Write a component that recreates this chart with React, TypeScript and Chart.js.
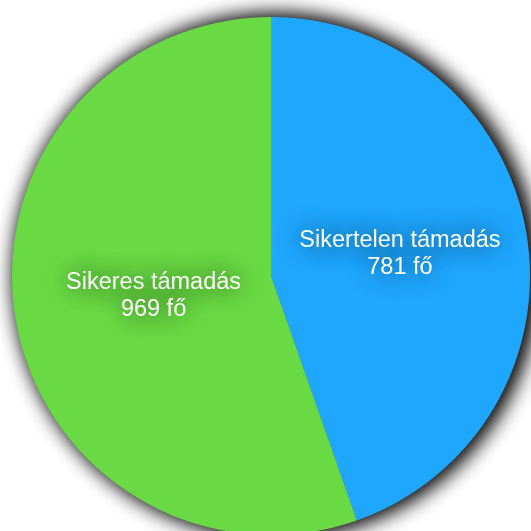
import React, { useEffect, useRef } from "react";
import { Chart, registerables } from "chart.js";

Chart.register(...registerables);

const categories = ["Sikertelen támadás", "Sikeres támadás"];
const values = [781, 969];
const unitLabels = ["781 fő", "969 fő"];
const colors = ["#1FA7FE", "#69DA43"];
const labelRadiusFractions = [0.505, 0.46];

const pieShadowPlugin = {
  id: "pieShadow",
  beforeDatasetsDraw(chart: any) {
    const meta = chart.getDatasetMeta(0);
    const el = meta.data[0];
    if (!el) return;
    const ctx = chart.ctx;
    ctx.save();
    ctx.shadowColor = "rgba(0,0,0,0.9)";
    ctx.shadowBlur = 22;
    ctx.shadowOffsetX = 5;
    ctx.shadowOffsetY = 0;
    ctx.fillStyle = "#666";
    for (let k = 0; k < 2; k++) {
      ctx.beginPath();
      ctx.arc(el.x, el.y, el.outerRadius - 0.5, 0, Math.PI * 2);
      ctx.fill();
    }
    ctx.restore();
  },
};

const sliceLabelPlugin = {
  id: "sliceLabels",
  afterDatasetsDraw(chart: any) {
    const meta = chart.getDatasetMeta(0);
    const ctx = chart.ctx;
    ctx.save();
    ctx.font = '23.5px "Liberation Sans", Arial, sans-serif';
    ctx.fillStyle = "#ffffff";
    ctx.textAlign = "center";
    ctx.textBaseline = "middle";
    ctx.shadowColor = "rgba(0,0,0,0.8)";
    ctx.shadowBlur = 24;
    meta.data.forEach((el: any, i: number) => {
      const mid = (el.startAngle + el.endAngle) / 2;
      const r = el.outerRadius * labelRadiusFractions[i];
      const cx = el.x + Math.cos(mid) * r;
      const cy = el.y + Math.sin(mid) * r;
      const lh = 27.5;
      ctx.fillText(categories[i], cx, cy - lh / 2);
      ctx.fillText(unitLabels[i], cx, cy + lh / 2);
    });
    ctx.restore();
  },
};

export default function App() {
  const ref = useRef<HTMLCanvasElement | null>(null);
  useEffect(() => {
    document.body.style.margin = "0";
    document.body.style.overflow = "hidden";
    const chart = new Chart(ref.current as HTMLCanvasElement, {
      type: "pie",
      data: {
        labels: categories,
        datasets: [
          {
            data: values,
            backgroundColor: colors,
            borderWidth: 0,
          },
        ],
      },
      options: {
        animation: false,
        responsive: false,
        maintainAspectRatio: false,
        layout: { padding: 20 },
        plugins: {
          legend: { display: false },
          tooltip: { enabled: false },
        },
      },
      plugins: [pieShadowPlugin, sliceLabelPlugin],
    });
    return () => chart.destroy();
  }, []);
  return (
    <div
      style={{
        position: "fixed",
        left: 0,
        top: 0,
        width: 531,
        height: 531,
        overflow: "hidden",
        background: "#ffffff",
      }}
    >
      <canvas
        ref={ref}
        width={558}
        height={558}
        style={{ position: "absolute", left: -8, top: -3, width: 558, height: 558 }}
      />
    </div>
  );
}
